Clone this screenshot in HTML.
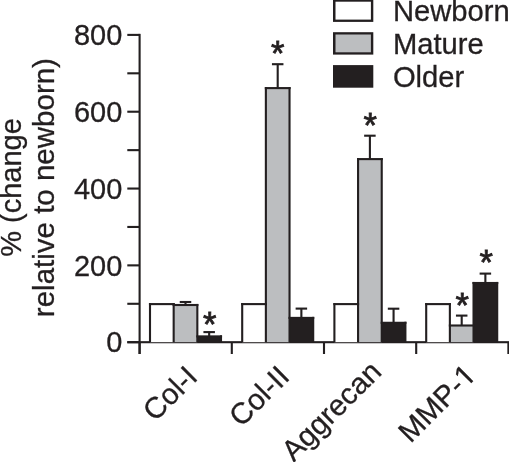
<!DOCTYPE html>
<html><head><meta charset="utf-8"><style>
html,body{margin:0;padding:0;background:#fff;overflow:hidden}
svg{display:block}
text{font-family:'Liberation Sans', sans-serif;fill:#231f20;stroke:#231f20;stroke-width:0.3px}
</style></head><body>
<svg width="509" height="462" viewBox="0 0 509 462">
<rect x="0" y="0" width="509" height="462" fill="#fff"/>
<rect x="138.55" y="33.85" width="2.10" height="320.15" fill="#231f20"/><rect x="127.30" y="341.15" width="12.30" height="2.10" fill="#231f20"/><rect x="127.30" y="302.74" width="12.30" height="2.10" fill="#231f20"/><rect x="127.30" y="264.32" width="12.30" height="2.10" fill="#231f20"/><rect x="127.30" y="225.91" width="12.30" height="2.10" fill="#231f20"/><rect x="127.30" y="187.50" width="12.30" height="2.10" fill="#231f20"/><rect x="127.30" y="149.09" width="12.30" height="2.10" fill="#231f20"/><rect x="127.30" y="110.67" width="12.30" height="2.10" fill="#231f20"/><rect x="127.30" y="72.26" width="12.30" height="2.10" fill="#231f20"/><rect x="127.30" y="33.85" width="12.30" height="2.10" fill="#231f20"/><rect x="127.30" y="341.15" width="381.70" height="2.10" fill="#231f20"/><rect x="138.55" y="342.20" width="2.10" height="11.80" fill="#231f20"/><rect x="230.75" y="342.20" width="2.10" height="11.80" fill="#231f20"/><rect x="322.95" y="342.20" width="2.10" height="11.80" fill="#231f20"/><rect x="415.15" y="342.20" width="2.10" height="11.80" fill="#231f20"/><rect x="507.35" y="342.20" width="2.10" height="11.80" fill="#231f20"/><rect x="150.00" y="304.10" width="23.67" height="38.10" fill="#ffffff"/><rect x="173.67" y="305.00" width="23.67" height="37.20" fill="#bcbec0"/><rect x="197.33" y="336.40" width="23.67" height="5.80" fill="#231f20"/><rect x="148.95" y="303.05" width="2.10" height="39.15" fill="#231f20"/><rect x="172.62" y="303.05" width="2.10" height="39.15" fill="#231f20"/><rect x="196.28" y="303.95" width="2.10" height="38.25" fill="#231f20"/><rect x="219.95" y="335.35" width="2.10" height="6.85" fill="#231f20"/><rect x="148.95" y="303.05" width="25.77" height="2.10" fill="#231f20"/><rect x="172.62" y="303.95" width="25.77" height="2.10" fill="#231f20"/><rect x="196.28" y="335.35" width="25.77" height="2.10" fill="#231f20"/><rect x="179.75" y="300.95" width="11.50" height="2.10" fill="#231f20"/><rect x="184.45" y="302.00" width="2.10" height="3.00" fill="#231f20"/><rect x="203.42" y="331.05" width="11.50" height="2.10" fill="#231f20"/><rect x="208.12" y="332.10" width="2.10" height="4.30" fill="#231f20"/><rect x="242.20" y="304.10" width="23.67" height="38.10" fill="#ffffff"/><rect x="265.87" y="88.10" width="23.67" height="254.10" fill="#bcbec0"/><rect x="289.53" y="317.90" width="23.67" height="24.30" fill="#231f20"/><rect x="241.15" y="303.05" width="2.10" height="39.15" fill="#231f20"/><rect x="264.82" y="87.05" width="2.10" height="255.15" fill="#231f20"/><rect x="288.48" y="87.05" width="2.10" height="255.15" fill="#231f20"/><rect x="312.15" y="316.85" width="2.10" height="25.35" fill="#231f20"/><rect x="241.15" y="303.05" width="25.77" height="2.10" fill="#231f20"/><rect x="264.82" y="87.05" width="25.77" height="2.10" fill="#231f20"/><rect x="288.48" y="316.85" width="25.77" height="2.10" fill="#231f20"/><rect x="271.95" y="63.15" width="11.50" height="2.10" fill="#231f20"/><rect x="276.65" y="64.20" width="2.10" height="23.90" fill="#231f20"/><rect x="295.62" y="307.55" width="11.50" height="2.10" fill="#231f20"/><rect x="300.32" y="308.60" width="2.10" height="9.30" fill="#231f20"/><rect x="334.40" y="304.10" width="23.67" height="38.10" fill="#ffffff"/><rect x="358.07" y="159.10" width="23.67" height="183.10" fill="#bcbec0"/><rect x="381.73" y="322.80" width="23.67" height="19.40" fill="#231f20"/><rect x="333.35" y="303.05" width="2.10" height="39.15" fill="#231f20"/><rect x="357.02" y="158.05" width="2.10" height="184.15" fill="#231f20"/><rect x="380.68" y="158.05" width="2.10" height="184.15" fill="#231f20"/><rect x="404.35" y="321.75" width="2.10" height="20.45" fill="#231f20"/><rect x="333.35" y="303.05" width="25.77" height="2.10" fill="#231f20"/><rect x="357.02" y="158.05" width="25.77" height="2.10" fill="#231f20"/><rect x="380.68" y="321.75" width="25.77" height="2.10" fill="#231f20"/><rect x="364.15" y="134.65" width="11.50" height="2.10" fill="#231f20"/><rect x="368.85" y="135.70" width="2.10" height="23.40" fill="#231f20"/><rect x="387.82" y="307.65" width="11.50" height="2.10" fill="#231f20"/><rect x="392.52" y="308.70" width="2.10" height="14.10" fill="#231f20"/><rect x="426.20" y="304.10" width="23.67" height="38.10" fill="#ffffff"/><rect x="449.87" y="325.50" width="23.67" height="16.70" fill="#bcbec0"/><rect x="473.53" y="283.00" width="23.67" height="59.20" fill="#231f20"/><rect x="425.15" y="303.05" width="2.10" height="39.15" fill="#231f20"/><rect x="448.82" y="303.05" width="2.10" height="39.15" fill="#231f20"/><rect x="472.48" y="281.95" width="2.10" height="60.25" fill="#231f20"/><rect x="496.15" y="281.95" width="2.10" height="60.25" fill="#231f20"/><rect x="425.15" y="303.05" width="25.77" height="2.10" fill="#231f20"/><rect x="448.82" y="324.45" width="25.77" height="2.10" fill="#231f20"/><rect x="472.48" y="281.95" width="25.77" height="2.10" fill="#231f20"/><rect x="455.95" y="314.55" width="11.50" height="2.10" fill="#231f20"/><rect x="460.65" y="315.60" width="2.10" height="9.90" fill="#231f20"/><rect x="479.62" y="272.55" width="11.50" height="2.10" fill="#231f20"/><rect x="484.32" y="273.60" width="2.10" height="9.40" fill="#231f20"/><rect x="333.00" y="-0.60" width="40.30" height="22.50" fill="#231f20"/><rect x="335.50" y="1.70" width="35.40" height="17.90" fill="#ffffff"/><rect x="333.00" y="32.20" width="40.30" height="22.40" fill="#231f20"/><rect x="335.50" y="34.50" width="35.40" height="17.80" fill="#bcbec0"/><rect x="333.00" y="65.10" width="40.30" height="22.60" fill="#231f20"/><text x="209.70" y="335.90" text-anchor="middle" font-size="34.5" style="stroke-width:0.8px">*</text><text x="277.75" y="64.85" text-anchor="middle" font-size="34.5" style="stroke-width:0.8px">*</text><text x="370.10" y="136.50" text-anchor="middle" font-size="34.5" style="stroke-width:0.8px">*</text><text x="462.25" y="317.00" text-anchor="middle" font-size="34.5" style="stroke-width:0.8px">*</text><text x="486.15" y="273.65" text-anchor="middle" font-size="34.5" style="stroke-width:0.8px">*</text><text transform="translate(122.3,352.40) scale(1,1.035)" text-anchor="end" font-size="29">0</text><text transform="translate(122.3,275.57) scale(1,1.035)" text-anchor="end" font-size="29">200</text><text transform="translate(122.3,198.75) scale(1,1.035)" text-anchor="end" font-size="29">400</text><text transform="translate(122.3,121.92) scale(1,1.035)" text-anchor="end" font-size="29">600</text><text transform="translate(122.3,45.10) scale(1,1.035)" text-anchor="end" font-size="29">800</text><text x="392.9" y="21.40" font-size="29.2">Newborn</text><text x="392.9" y="53.80" font-size="29.2">Mature</text><text x="392.9" y="87.20" font-size="29.2">Older</text><text transform="translate(21.1,187.45) rotate(-90)" text-anchor="middle" font-size="29">% (change</text><text transform="translate(54.2,187.6) rotate(-90)" text-anchor="middle" font-size="29.5">relative to newborn)</text><defs><clipPath id="nofoot" clipPathUnits="userSpaceOnUse"><path clip-rule="evenodd" d="M-300,-100H60V60H-300Z M-15.16,-3.40H-9.19V1.5H-15.16Z M-6.18,-3.40H-0.44V1.5H-6.18Z"/></clipPath></defs><text transform="translate(199.1,378.5) rotate(-45)" text-anchor="end" font-size="29.5">Col-I</text><text transform="translate(291,378.1) rotate(-45)" text-anchor="end" font-size="29.5">Col-II</text><text transform="translate(383,373.4) rotate(-45)" text-anchor="end" font-size="29.5">Aggrecan</text><text transform="translate(477.7,376.7) rotate(-45)" text-anchor="end" font-size="29.5" clip-path="url(#nofoot)">MMP-1</text>
</svg>
</body></html>
